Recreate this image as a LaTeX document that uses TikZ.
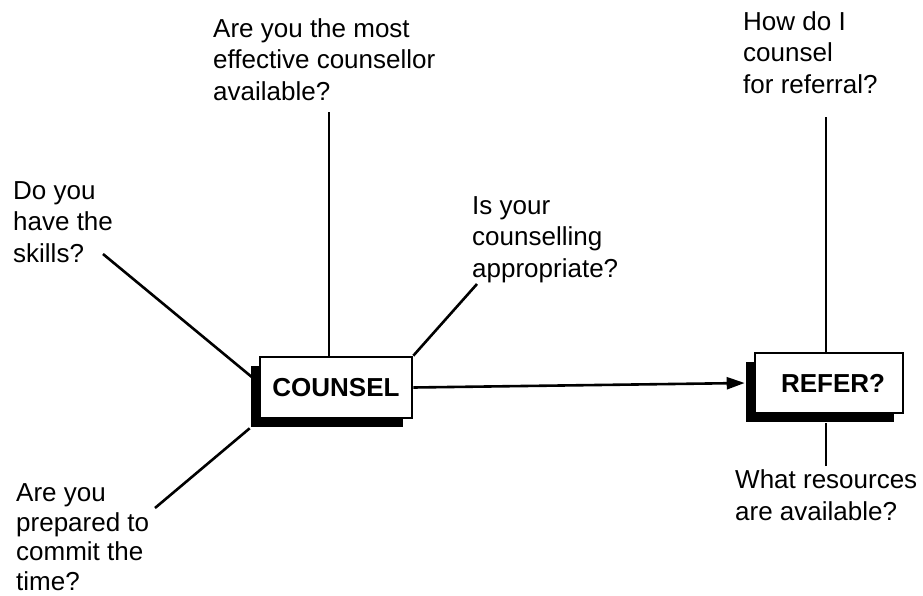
\documentclass[tikz,border=0pt]{standalone}
\usepackage{fontspec}
\setmainfont{Liberation Sans}
\usetikzlibrary{arrows.meta,shadows}
\tikzset{
  label text/.style={anchor=base west, inner sep=0pt, align=left,
    font=\fontsize{26}{31.5}\selectfont},
  decision/.style={draw, fill=white, line width=2.6pt, inner sep=0pt,
    font=\fontsize{26}{31.5}\selectfont\bfseries,
    drop shadow={shadow xshift=-9pt, shadow yshift=-9pt, opacity=1, fill=black}},
  link/.style={line width=2.6pt},
}
\begin{document}
\begin{tikzpicture}[x=1pt, y=-1pt]
\useasboundingbox (0,0) rectangle (923,595);

% the two decision boxes
\node[decision, minimum width=152pt, minimum height=61pt] (c) at (336,387.5) {COUNSEL};
\node[decision, minimum width=148pt, minimum height=60pt] (r) at (829,383) {\hspace*{8pt}REFER?};

% questions around them (placed by the baseline of their last line)
\node[label text] (t1) at (213,100) {Are you the most\\effective counsellor\\available?};
\node[label text] (t2) at (13,262) {Do you\\have the\\skills?};
\node[label text] (t3) at (472,277) {Is your\\counselling\\appropriate?};
\node[label text, font=\fontsize{26}{29.5}\selectfont] (t4) at (16,590) {Are you\\prepared to\\commit the\\time?};
\node[label text] (t5) at (743,93) {How do I\\counsel\\for referral?};
\node[label text] (t6) at (735,520) {What resources\\are available?};

% free ends of the spokes
\coordinate (a1) at (329,112);
\coordinate (a2) at (103,254);
\coordinate (a2e) at (253,378);
\coordinate (a3) at (477,284);
\coordinate (a4) at (155,508);
\coordinate (a5) at (826,117);
\coordinate (a6) at (826,466);
\coordinate (rs) at ([yshift=-9pt]r.south);

% spokes
\draw[link] (a1) -- (a1 |- c.north);
\draw[link] (a2) -- (a2e);
\draw[link] (a3) -- (c.north east);
\draw[link] (a4) -- ([shift={(-9pt,-9pt)}]c.south west);
\draw[link] (a5) -- (a5 |- r.north);
\draw[link] (a6) -- (a6 |- rs);

% main arrow
\draw[link, -{Triangle[length=18pt, width=12pt]}] (c.east) -- ([xshift=-9pt]r.west);
\end{tikzpicture}
\end{document}
